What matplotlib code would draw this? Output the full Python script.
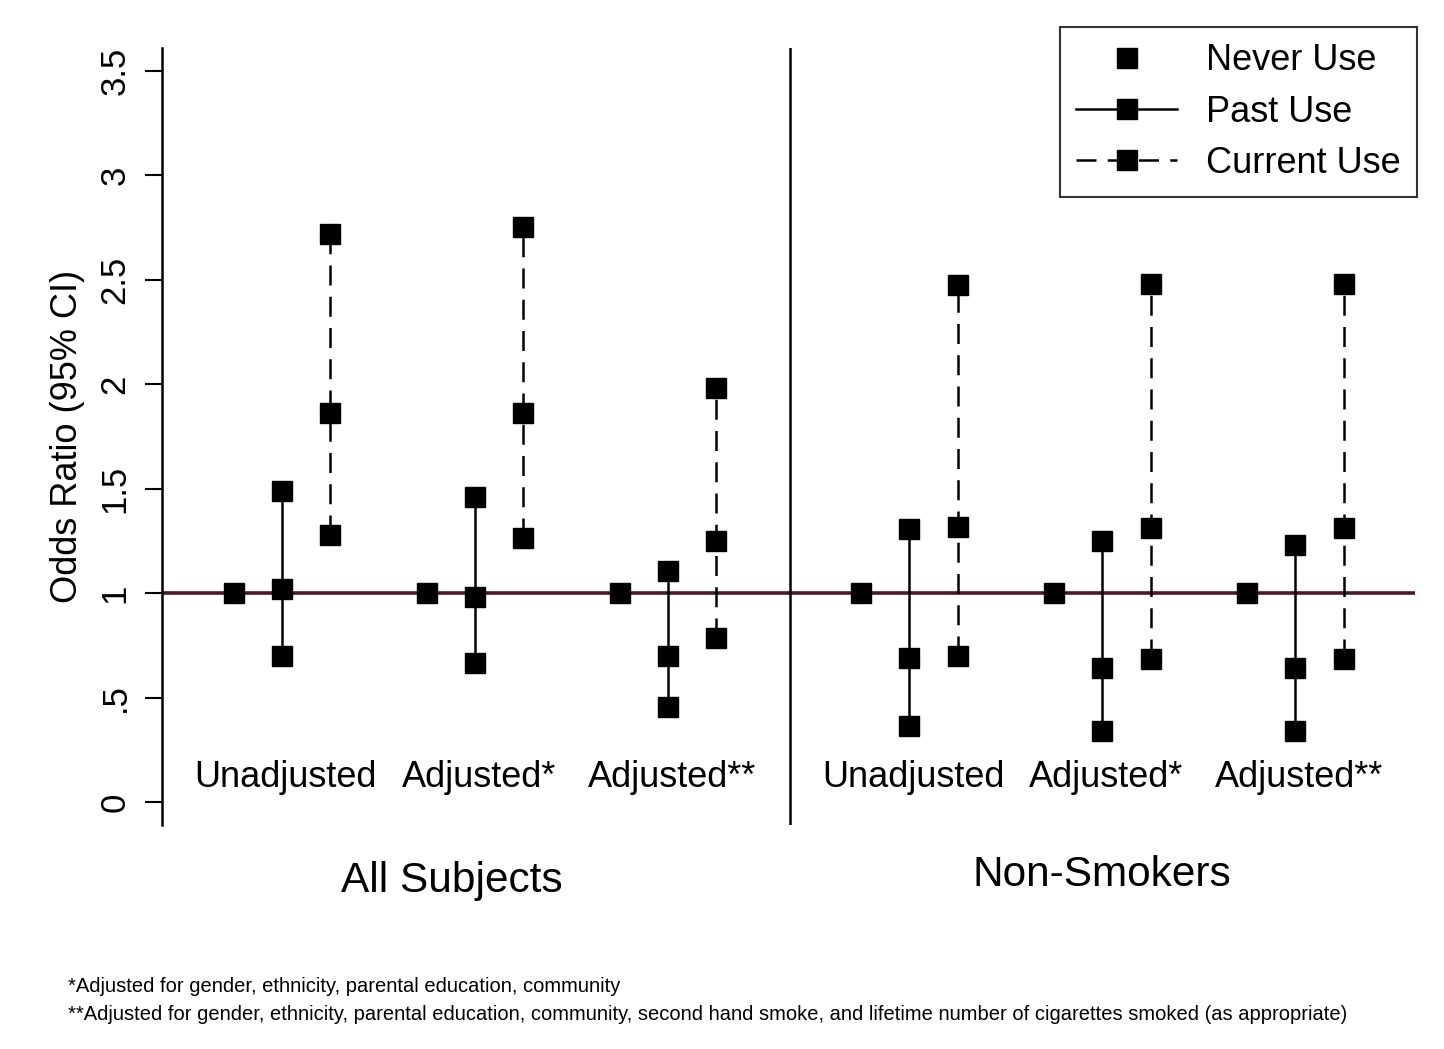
import numpy as np
import matplotlib
matplotlib.use("Agg")
import matplotlib.pyplot as plt
from matplotlib.lines import Line2D

plt.rcParams['font.family'] = ['Liberation Sans', 'DejaVu Sans']

groups = ["Unadjusted", "Adjusted*", "Adjusted**", "Unadjusted", "Adjusted*", "Adjusted**"]
panels = ["All Subjects", "Non-Smokers"]

never_or = [1.0, 1.0, 1.0, 1.0, 1.0, 1.0]

past_or = [1.02, 0.98, 0.70, 0.69, 0.64, 0.64]
past_lo = [0.70, 0.665, 0.455, 0.365, 0.34, 0.34]
past_hi = [1.49, 1.46, 1.105, 1.305, 1.25, 1.23]

curr_or = [1.86, 1.86, 1.25, 1.315, 1.31, 1.31]
curr_lo = [1.28, 1.265, 0.785, 0.70, 0.685, 0.685]
curr_hi = [2.72, 2.75, 1.98, 2.475, 2.48, 2.48]

footnote1 = "*Adjusted for gender, ethnicity, parental education, community"
footnote2 = ("**Adjusted for gender, ethnicity, parental education, community, second hand smoke, "
             "and lifetime number of cigarettes smoked (as appropriate)")

# group centres: second panel shifted a bit further right
pos = np.array([1, 2, 3, 4.25, 5.25, 6.25])
off = 0.25

fig = plt.figure(figsize=(14.44, 10.49), dpi=100)
ax = fig.add_axes([162/1444, 1 - 825/1049, (1415-162)/1444, (825-48)/1049])

ax.set_xlim(0.378, 6.87)
ax.set_ylim(-0.11, 3.608)

ms = 14.5
dash = (0, (8, 4.5))
ax.axhline(1.0, color='#4a1a26', lw=2.6, zorder=1)
ax.axvline(3.632, color='black', lw=1.8, zorder=1)

for i in range(len(pos)):
    x0 = pos[i] - off
    x1 = pos[i]
    x2 = pos[i] + off
    ax.plot([x0], [never_or[i]], 's', color='black', ms=ms, zorder=3)
    ax.plot([x1, x1], [past_lo[i], past_hi[i]], '-', color='black', lw=1.8, zorder=2)
    ax.plot([x1, x1, x1], [past_lo[i], past_or[i], past_hi[i]], 's', color='black', ms=ms, zorder=3)
    ax.plot([x2, x2], [curr_lo[i], curr_hi[i]], color='black', lw=1.8, zorder=2, linestyle=dash)
    ax.plot([x2, x2, x2], [curr_lo[i], curr_or[i], curr_hi[i]], 's', color='black', ms=ms, zorder=3)

for i, g in enumerate(groups):
    ax.text(pos[i] + 0.02, 0.115, g, ha='center', va='center', fontsize=26)

ax.text(2.0 - 0.12, -0.38, panels[0], ha='center', va='center', fontsize=30.5)
ax.text(5.25 - 0.0, -0.35, panels[1], ha='center', va='center', fontsize=30.5)

ax.set_yticks([0, 0.5, 1, 1.5, 2, 2.5, 3, 3.5])
ax.set_yticklabels(['0', '.5', '1', '1.5', '2', '2.5', '3', '3.5'], rotation=90, va='center')
ax.tick_params(axis='y', labelsize=25, length=12, width=1.5, pad=10)
ax.set_xticks([])
ax.set_ylabel('Odds Ratio (95% CI)', fontsize=26, labelpad=10)

for s in ['top', 'right', 'bottom']:
    ax.spines[s].set_visible(False)
ax.spines['left'].set_linewidth(1.8)

handles = [
    Line2D([], [], marker='s', color='black', linestyle='none', ms=ms),
    Line2D([], [], marker='s', color='black', linestyle='-', lw=1.8, ms=ms),
    Line2D([], [], marker='s', color='black', linestyle=dash, lw=1.8, ms=ms),
]
leg = fig.legend(handles, ['Never Use', 'Past Use', 'Current Use'],
                 loc='upper right', bbox_to_anchor=(1417/1444, 1 - 27/1049),
                 borderaxespad=0.0,
                 fontsize=26, frameon=True, fancybox=False, edgecolor='black',
                 handlelength=2.8, labelspacing=0.45, borderpad=0.45, handletextpad=0.8)
leg.get_frame().set_linewidth(1.5)

fig.text(68/1444, 1 - 987/1049, footnote1, fontsize=14.5, va='center', ha='left')
fig.text(68/1444, 1 - 1014/1049, footnote2, fontsize=14.5, va='center', ha='left')

fig.savefig('out.png', dpi=100, facecolor='white')
